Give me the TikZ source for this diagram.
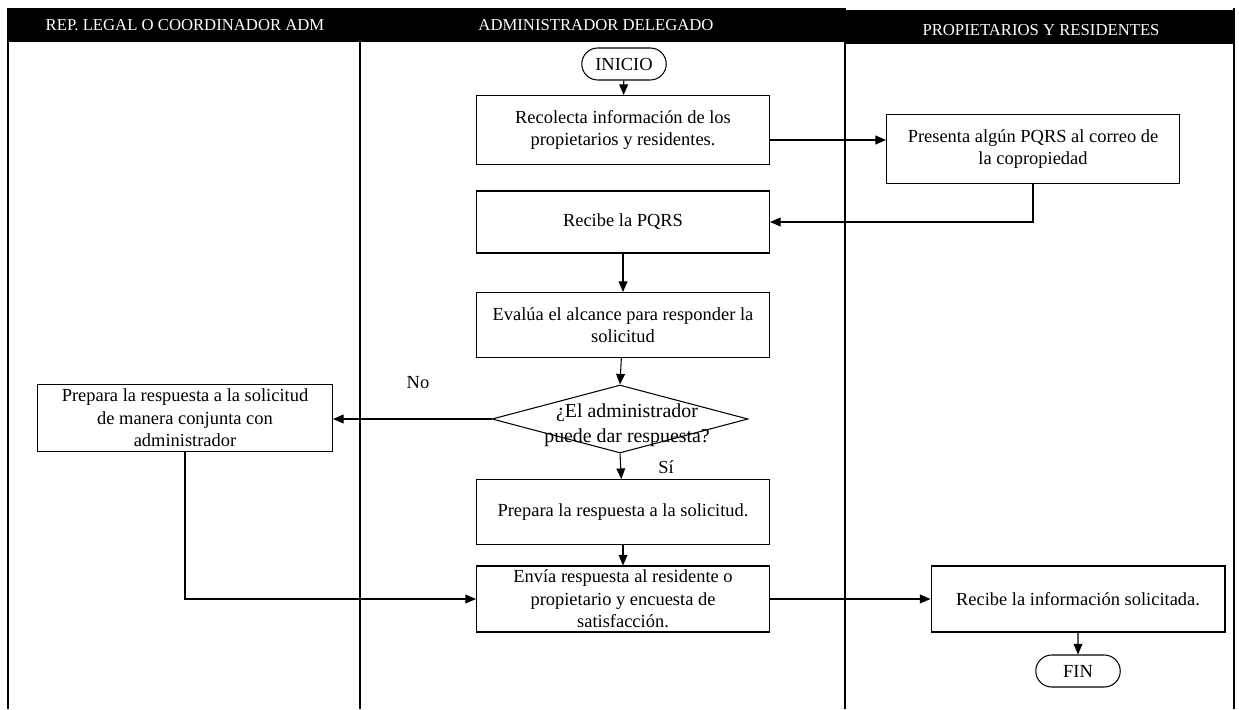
\documentclass[tikz,border=0pt]{standalone}
\usepackage{fontspec}
\setmainfont{Liberation Serif}
\usetikzlibrary{arrows.meta,shapes.geometric,shapes.misc}

\begin{document}
\begin{tikzpicture}[x=0.02cm,y=-0.02cm,
  txt/.style={font=\fontsize{10.5}{12.8}\selectfont},
  stepbox/.style={txt, draw, line width=0.6pt, minimum width=5.86cm,
    minimum height=1.32cm, align=center, inner sep=2pt},
  term/.style={txt, draw, line width=0.6pt, rounded rectangle,
    minimum width=1.76cm, minimum height=0.64cm, inner sep=1pt},
  decision/.style={draw, line width=0.6pt, diamond, minimum width=5.12cm,
    minimum height=1.36cm, inner sep=0pt},
  flow/.style={-{Triangle[length=6pt,width=5pt]}, line width=0.6pt},
  lane/.style={line width=0.6pt},
  head/.style={text=white, font=\fontsize{9.5}{11}\selectfont}]

\useasboundingbox (0,0) rectangle (1239,709);

% swimlane header band and frame
\fill[black] (8,8) rectangle (845,42);
\fill[black] (845,10) rectangle (1234,44);
\draw[lane] (8,8) -- (8,709);
\draw[lane] (1234,8) -- (1234,709);
\draw[lane] (360,42) -- (360,709);
\draw[lane] (845,8) -- (845,709);

\node[head] (h1) at (185,25) {REP. LEGAL O COORDINADOR ADM};
\node[head] (h2) at (596,25) {ADMINISTRADOR DELEGADO};
\node[head] (h3) at (1041,30) {PROPIETARIOS Y RESIDENTES};

% process steps
\node[term] (ini) at (624,64) {INICIO};
\node[stepbox, minimum height=1.38cm] (b1) at (623,130)
  {Recolecta información de los\\propietarios y residentes.};
\node[stepbox, minimum height=1.38cm] (b2) at (1033,149)
  {Presenta algún PQRS al correo de\\la copropiedad};
\node[stepbox, minimum height=1.24cm] (b3) at (623,222) {Recibe la PQRS};
\node[stepbox, minimum height=1.30cm] (b4) at (623,325)
  {Evalúa el alcance para responder la\\solicitud};
\node[decision] (dec) at (620,419) {};
\node[align=center, font=\fontsize{11.3}{14}\selectfont] (dect) at (627,425)
  {¿El administrador\\puede dar respuesta?};
\node[stepbox, minimum width=5.9cm, minimum height=1.34cm] (b5) at (185,418)
  {Prepara la respuesta a la solicitud\\de manera conjunta con\\administrador};
\node[stepbox, minimum height=1.30cm] (b6) at (623,512)
  {Prepara la respuesta a la solicitud.};
\node[stepbox] (b7) at (623,599)
  {Envía respuesta al residente o\\propietario y encuesta de\\satisfacción.};
\node[stepbox, minimum width=5.88cm] (b8) at (1078,599)
  {Recibe la información solicitada.};
\node[term] (fin) at (1078,671) {FIN};

% connectors
\draw[flow] (ini) -- (b1);
\path (b1.east) ++(0,10) coordinate (r1);
\draw[flow] (r1) -- (r1 -| b2.west);
\draw[flow] (b2.south) |- (b3.east);
\draw[flow] (b3) -- (b4);
\draw[flow] (b4) -- (dec.north);
\draw[flow] (dec.west) -- (dec.west -| b5.east);
\draw[flow] (dec.south) -- (b6);
\draw[flow] (b6) -- (b7);
\draw[flow] (b5.south) |- (b7.west);
\draw[flow] (b7) -- (b8);
\draw[flow] (b8) -- (fin);

\node[txt] (no) at (418,383) {No};
\node[txt] (si) at (666,467) {Sí};
\end{tikzpicture}
\end{document}
